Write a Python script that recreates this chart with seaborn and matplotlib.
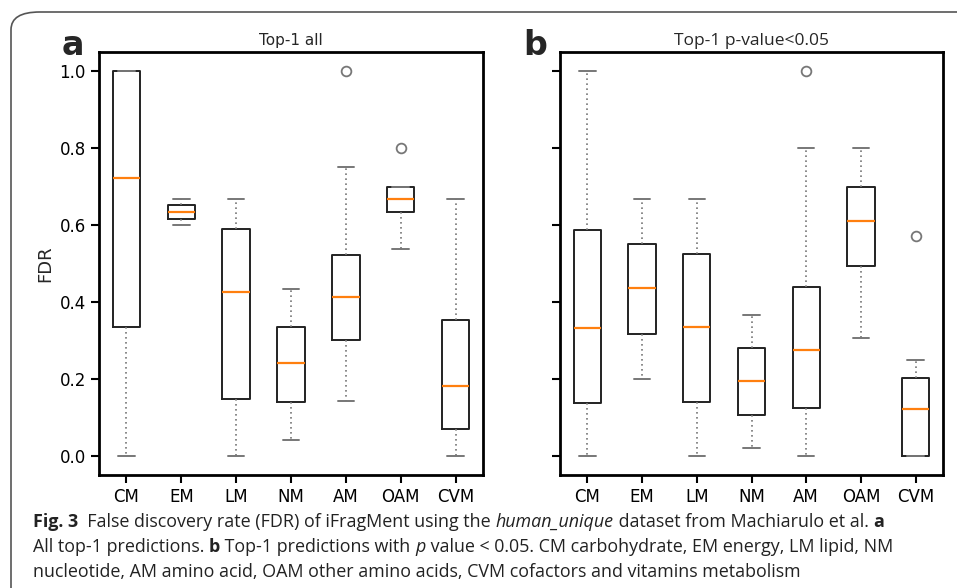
import numpy as np
import pandas as pd
import matplotlib
matplotlib.use("Agg")
import matplotlib.pyplot as plt
import seaborn as sns
from matplotlib.patches import FancyBboxPatch

groups = ["CM", "EM", "LM", "NM", "AM", "OAM", "CVM"]

# panel a: Top-1 all
a_whislo = [0.000, 0.600, 0.000, 0.041, 0.143, 0.539, 0.000]
a_q1     = [0.336, 0.616, 0.148, 0.140, 0.300, 0.635, 0.069]
a_med    = [0.723, 0.634, 0.426, 0.240, 0.414, 0.667, 0.182]
a_q3     = [1.000, 0.651, 0.591, 0.336, 0.522, 0.700, 0.352]
a_whishi = [1.000, 0.667, 0.667, 0.434, 0.750, 0.700, 0.667]
a_fliers = [[], [], [], [], [1.0], [0.8], []]

# panel b: Top-1 p-value<0.05
b_whislo = [0.000, 0.200, 0.000, 0.021, 0.000, 0.307, 0.000]
b_q1     = [0.137, 0.317, 0.140, 0.107, 0.125, 0.494, 0.000]
b_med    = [0.333, 0.435, 0.336, 0.195, 0.275, 0.611, 0.122]
b_q3     = [0.588, 0.551, 0.524, 0.281, 0.439, 0.700, 0.203]
b_whishi = [1.000, 0.667, 0.667, 0.367, 0.801, 0.801, 0.250]
b_fliers = [[], [], [], [], [1.0], [], [0.572]]

yticks = [0.0, 0.2, 0.4, 0.6, 0.8, 1.0]

sns.set_theme(style="white")
plt.rcParams['font.family'] = ['DejaVu Sans']


def make_stats(lo, q1, med, q3, hi, fl):
    df = pd.DataFrame({"label": groups, "whislo": lo, "q1": q1, "med": med,
                       "q3": q3, "whishi": hi})
    stats = df.to_dict("records")
    for s, f in zip(stats, fl):
        s["fliers"] = f
    return stats


fig = plt.figure(figsize=(9.57, 5.88), dpi=100)
W, H = 957, 588
ax1 = fig.add_axes([99 / W, 1 - 475 / H, (483 - 99) / W, (475 - 52) / H])
ax2 = fig.add_axes([560 / W, 1 - 475 / H, (943 - 560) / W, (475 - 52) / H])

panels = [
    (ax1, make_stats(a_whislo, a_q1, a_med, a_q3, a_whishi, a_fliers), "Top-1 all", "DejaVu Sans", 11),
    (ax2, make_stats(b_whislo, b_q1, b_med, b_q3, b_whishi, b_fliers), "Top-1 p-value<0.05", "Open Sans", 12.5),
]

for ax, stats, title, tfont, tsize in panels:
    ax.bxp(stats, widths=0.5, capwidths=0.3, patch_artist=False,
           boxprops=dict(color="#222222", linewidth=1.4),
           medianprops=dict(color="#ff7f0e", linewidth=1.6),
           whiskerprops=dict(color="#777777", linestyle=(0, (1, 2)), linewidth=1.2),
           capprops=dict(color="#777777", linewidth=1.4),
           flierprops=dict(marker="o", markerfacecolor="none", markeredgecolor="#777777",
                           markersize=7, markeredgewidth=1.3))
    ax.set_ylim(-0.05, 1.05)
    ax.set_xlim(0.5, 7.5)
    ax.set_yticks(yticks)
    for sp in ax.spines.values():
        sp.set_visible(True)
        sp.set_color("black")
        sp.set_linewidth(2)
    ax.tick_params(axis="both", direction="out", length=6, width=1.5, color="black",
                   labelsize=12, labelcolor="black", left=True, bottom=True)
    ax.set_title(title, fontsize=tsize, pad=5, family=tfont)
    ax.grid(False)

ax1.set_yticklabels([f"{t:.1f}" for t in yticks])
ax1.set_ylabel("FDR", fontsize=13)
ax2.set_yticklabels([])

fig.text(62 / W, 1 - 55 / H, "a", fontsize=24, fontweight="bold", ha="left", va="baseline")
fig.text(523 / W, 1 - 55 / H, "b", fontsize=24, fontweight="bold", ha="left", va="baseline")

# outer rounded frame
frame = FancyBboxPatch((11 / W, -0.1), 1.2, 1 - 12 / H + 0.1,
                       boxstyle="round,pad=0,rounding_size=0.03",
                       transform=fig.transFigure, fill=False,
                       edgecolor="#555555", linewidth=1.2, clip_on=False)
fig.add_artist(frame)

# caption with mixed styles
caption = [
    [("Fig. 3", "bold", "normal"), ("  False discovery rate (FDR) of iFragMent using the ", "normal", "normal"),
     ("human_unique", "normal", "italic"), (" dataset from Machiarulo et al. ", "normal", "normal"),
     ("a", "bold", "normal")],
    [("All top-1 predictions. ", "normal", "normal"), ("b", "bold", "normal"),
     (" Top-1 predictions with ", "normal", "normal"), ("p", "normal", "italic"),
     (" value < 0.05. CM carbohydrate, EM energy, LM lipid, NM", "normal", "normal")],
    [("nucleotide, AM amino acid, OAM other amino acids, CVM cofactors and vitamins metabolism",
      "normal", "normal")],
]
fig.canvas.draw()
renderer = fig.canvas.get_renderer()
ys = [527, 552, 577]
for line, y in zip(caption, ys):
    x = 33
    for txt, wt, st in line:
        t = fig.text(x / W, 1 - y / H, txt, fontsize=12.9, fontweight=wt, fontstyle=st,
                     family="Open Sans", ha="left", va="baseline", color="#222222")
        bb = t.get_window_extent(renderer)
        x += bb.width

fig.savefig("out.png", dpi=100)
